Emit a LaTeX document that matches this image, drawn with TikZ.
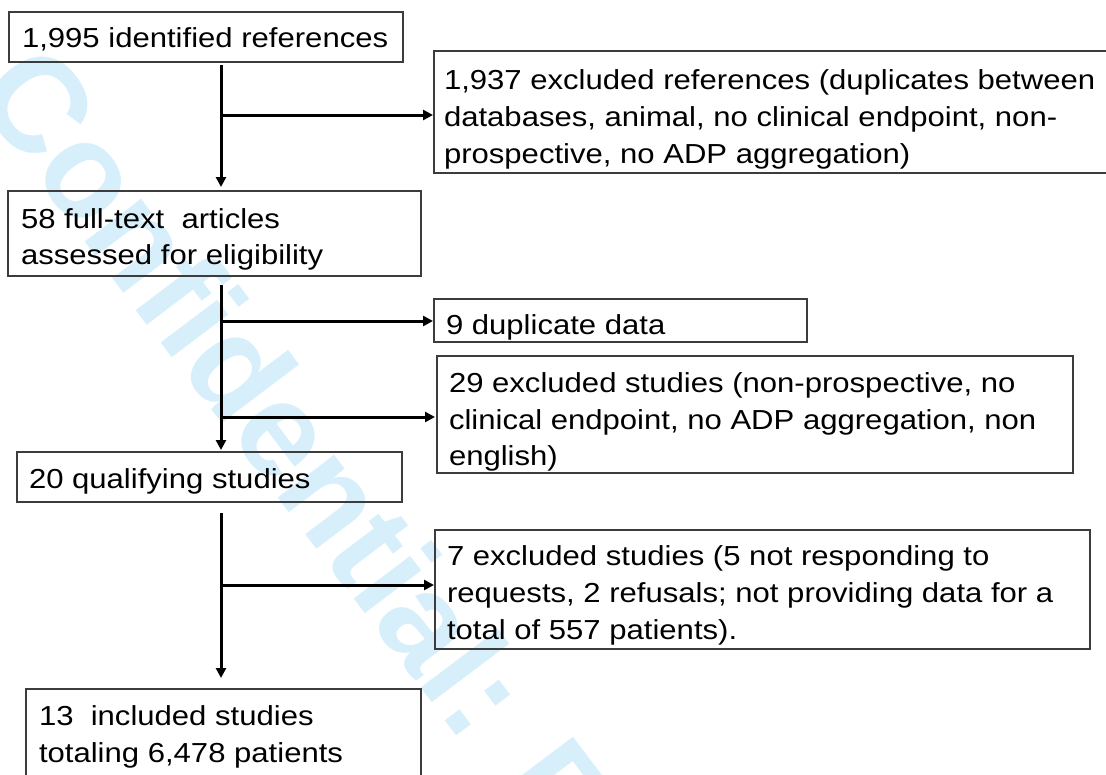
\documentclass[tikz,border=0pt]{standalone}
\usepackage{fontspec}
\setmainfont{Liberation Sans}[FakeStretch=1.13]
\newfontfamily\wmfont{Liberation Sans}
\usetikzlibrary{arrows.meta,calc}
\definecolor{wmcol}{RGB}{214,239,251}
\definecolor{boxcol}{RGB}{60,60,60}
\tikzset{
  box/.style={draw=boxcol, line width=1.3pt, rectangle, inner sep=0pt, outer sep=0pt, anchor=north west},
  txt/.style={inner sep=0pt, outer sep=0pt, anchor=base west, font=\fontsize{27.5}{33}\selectfont},
  wm/.style={inner sep=0pt, outer sep=0pt, anchor=base west, text=wmcol, font=\wmfont\bfseries\fontsize{134}{134}\selectfont},
  spine/.style={line width=3pt, draw=black},
  arr/.style={line width=3pt, draw=black, -{Triangle[length=10pt,width=10pt]}},
}
\begin{document}
\begin{tikzpicture}[x=1pt,y=-1pt]
\useasboundingbox (0,0) rectangle (1106,774);
\clip (0,0) rectangle (1106,774);
\fill[white] (0,0) rectangle (1106,774);
% watermark
\node[wm, rotate=-53] (wm) at (-28,92) {Confidential: For Review Only};
% boxes
\node[box, minimum width=394pt, minimum height=50pt] (b1) at (9,12) {};
\node[box, minimum width=680pt, minimum height=122pt] (b2) at (434,51) {};
\node[box, minimum width=413pt, minimum height=85pt] (b3) at (8,191) {};
\node[box, minimum width=373pt, minimum height=43pt] (b5) at (434,299) {};
\node[box, minimum width=636pt, minimum height=117pt] (b6) at (437,356) {};
\node[box, minimum width=385pt, minimum height=50pt] (b7) at (17,452) {};
\node[box, minimum width=655pt, minimum height=119pt] (b9) at (435,530) {};
\node[box, minimum width=395pt, minimum height=110pt] (b8) at (26,689) {};
% texts
\node[txt] (t1) at (22,47) {1,995 identified references};
\node[txt] (t2a) at (444,89) {1,937 excluded references (duplicates between};
\node[txt] (t2b) at (444,126) {databases, animal, no clinical endpoint, non-};
\node[txt] (t2c) at (444,163) {prospective, no ADP aggregation)};
\node[txt] (t3a) at (21,228) {58 full-text\ \ articles};
\node[txt] (t3b) at (21,264) {assessed for eligibility};
\node[txt] (t5) at (446,334) {9 duplicate data};
\node[txt] (t6a) at (449,392) {29 excluded studies (non-prospective, no};
\node[txt] (t6b) at (449,429) {clinical endpoint, no ADP aggregation, non};
\node[txt] (t6c) at (449,465) {english)};
\node[txt] (t7) at (29,488) {20 qualifying studies};
\node[txt] (t9a) at (447,565) {7 excluded studies (5 not responding to};
\node[txt] (t9b) at (447,602) {requests, 2 refusals; not providing data for a};
\node[txt] (t9c) at (447,639) {total of 557 patients).};
\node[txt] (t8a) at (39,725) {13\ \ included studies};
\node[txt] (t8b) at (39,762) {totaling 6,478 patients};
% spine junctions
\coordinate (j1) at (221,115);
\coordinate (j2) at (221,321);
\coordinate (j3) at (221,417);
\coordinate (j4) at (221,585);
% connectors
\draw[arr] ($(b1.south -| j1)+(0,3)$) -- ($(b3.north -| j1)+(0,-4)$);
\draw[arr] (j1) -- ($(j1 -| b2.west)+(-1,0)$);
\draw[arr] ($(b3.south -| j2)+(0,9)$) -- ($(b7.north -| j2)+(0,-2)$);
\draw[arr] (j2) -- ($(j2 -| b5.west)+(-1,0)$);
\draw[arr] (j3) -- ($(j3 -| b6.west)+(-2,0)$);
\draw[arr] ($(b7.south -| j4)+(0,11)$) -- ($(b8.north -| j4)+(0,-11)$);
\draw[arr] (j4) -- ($(j4 -| b9.west)+(-1,0)$);
\end{tikzpicture}
\end{document}
